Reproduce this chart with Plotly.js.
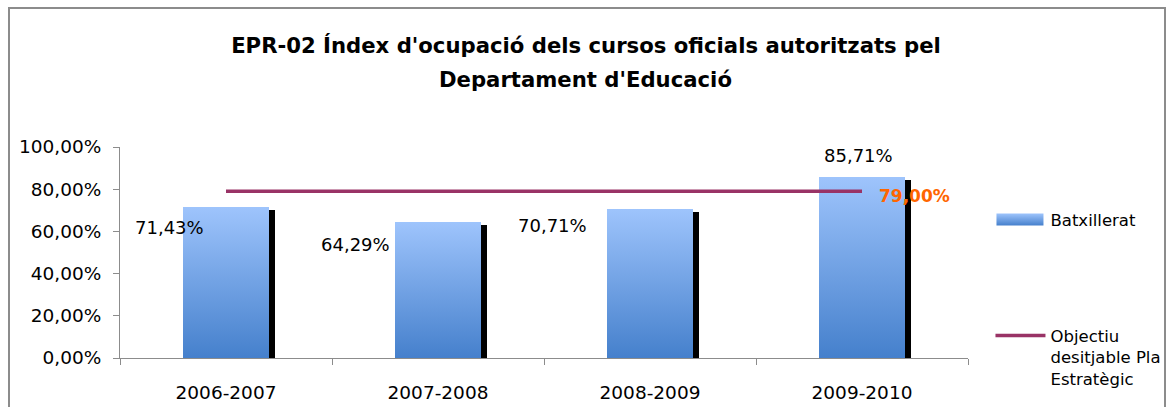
<!DOCTYPE html>
<html>
<head>
<meta charset="utf-8">
<script src="https://cdn.plot.ly/plotly-3.0.1.min.js"></script>
<style>
  html, body { margin: 0; padding: 0; background: #fff; }
  #wrap { position: relative; width: 1172px; height: 407px; overflow: hidden; }
  #chart { width: 1172px; height: 407px; }
  #frame { position: absolute; left: 8px; top: 7px; width: 1158px; height: 420px;
           border: 2px solid #8c8c8c; border-bottom: none; pointer-events: none; box-sizing: border-box; }
</style>
</head>
<body>
<div id="wrap">
  <div id="chart"></div>
  <div id="frame"></div>
</div>
<script>
// Course years
const cursos = ['2006-2007', '2007-2008', '2008-2009', '2009-2010'];
// Occupancy index, Batxillerat
const batxillerat = [0.7143, 0.6429, 0.7071, 0.8571];
// Strategic plan target
const objectiu = [0.79, 0.79, 0.79, 0.79];
// Label offsets (px) for the bar value labels
const labelShiftX = [-57, -83, -98, -4];
const labelShiftY = [-20, -22, -17, 22];

const fmtPct = v => (v * 100).toFixed(2).replace('.', ',') + '%';

const FONT = 'DejaVu Sans, Verdana, sans-serif';
const barHalf = 0.205;
const shadowDrop = 0.014;

const traces = [
  {
    type: 'bar', name: 'Batxillerat', x: cursos, y: batxillerat,
    offset: -barHalf, width: 2 * barHalf,
    marker: { color: '#6f9fe4', line: { width: 0 } },
    legend: 'legend', hoverinfo: 'skip'
  },
  {
    type: 'bar', name: 'ombra', x: cursos, y: batxillerat.map(v => v - shadowDrop),
    offset: barHalf, width: 0.024,
    marker: { color: '#000000', line: { width: 0 } },
    showlegend: false, hoverinfo: 'skip'
  },
  {
    type: 'scatter', mode: 'lines', name: 'Objectiu<br>desitjable Pla<br>Estratègic',
    x: cursos, y: objectiu,
    line: { color: '#993366', width: 3.5 },
    legend: 'legend2', hoverinfo: 'skip'
  }
];

const annotations = cursos.map((c, i) => ({
  x: c, y: batxillerat[i], xref: 'x', yref: 'y',
  text: fmtPct(batxillerat[i]), showarrow: false,
  xshift: labelShiftX[i], yshift: labelShiftY[i],
  font: { family: FONT, size: 18, color: '#000' }
}));
const last = cursos.length - 1;
annotations.push({
  x: cursos[last], y: objectiu[last], xref: 'x', yref: 'y',
  text: '<b>' + fmtPct(objectiu[last]) + '</b>', showarrow: false,
  xshift: 52, yshift: -5,
  font: { family: FONT, size: 17, color: '#ff6600' }
});
// second line of the chart heading, centred on the page
annotations.push({
  x: 0.5495, y: 1.32, xref: 'paper', yref: 'paper', xanchor: 'center', yanchor: 'middle',
  text: "<b>Departament d'Educació</b>", showarrow: false,
  font: { family: FONT, size: 21.2, color: '#000' }
});

const layout = {
  width: 1172, height: 407,
  margin: { l: 120, r: 204, t: 147, b: 49, autoexpand: false },
  paper_bgcolor: '#fff', plot_bgcolor: '#fff',
  separators: ',.',
  font: { family: FONT, size: 18, color: '#000' },
  title: {
    text: "<b>EPR-02 Índex d'ocupació dels cursos oficials autoritzats pel</b>",
    x: 0.5, xanchor: 'center', y: 0.889, yanchor: 'middle',
    font: { family: FONT, size: 21.2, color: '#000' }
  },
  showlegend: true,
  xaxis: {
    type: 'category', range: [-0.5, 3.5],
    showline: true, linecolor: '#8c8c8c', linewidth: 1,
    ticks: 'outside', tickson: 'boundaries', ticklen: 6, tickcolor: '#8c8c8c',
    ticklabelstandoff: 18,
    showgrid: false, zeroline: false,
    tickfont: { family: FONT, size: 18.5, color: '#000' }
  },
  yaxis: {
    range: [0, 1], tickvals: [0, 0.2, 0.4, 0.6, 0.8, 1.0], tickformat: '.2%',
    showline: true, linecolor: '#8c8c8c', linewidth: 1,
    ticks: 'outside', ticklen: 6, tickcolor: '#8c8c8c',
    ticklabelstandoff: 8,
    showgrid: false, zeroline: false,
    tickfont: { family: FONT, size: 18.5, color: '#000' }
  },
  legend: {
    x: 1.0265, y: 0.655, xanchor: 'left', yanchor: 'middle',
    font: { family: FONT, size: 16.5, color: '#000' }, itemwidth: 50,
    bgcolor: 'rgba(0,0,0,0)'
  },
  legend2: {
    x: 1.0265, y: 0.188, xanchor: 'left', yanchor: 'top', valign: 'top',
    font: { family: FONT, size: 16.5, color: '#000' }, itemwidth: 50,
    bgcolor: 'rgba(0,0,0,0)'
  },
  annotations: annotations,
  bargap: 0
};

function addGradient(gd) {
  const svg = gd.querySelector('svg.main-svg');
  if (svg.querySelector('#batxGrad')) return;
  const NS = 'http://www.w3.org/2000/svg';
  const defs = svg.querySelector('defs');
  const grad = document.createElementNS(NS, 'linearGradient');
  grad.setAttribute('id', 'batxGrad');
  grad.setAttribute('x1', '0'); grad.setAttribute('y1', '0');
  grad.setAttribute('x2', '0'); grad.setAttribute('y2', '1');
  [['0%', '#9ec4fc'], ['100%', '#4580cc']].forEach(([o, c]) => {
    const s = document.createElementNS(NS, 'stop');
    s.setAttribute('offset', o); s.setAttribute('stop-color', c);
    grad.appendChild(s);
  });
  defs.appendChild(grad);
}

function styleBars(gd) {
  addGradient(gd);
  // vertical blue gradient on the Batxillerat bars
  const barTraces = gd.querySelectorAll('.barlayer .trace');
  if (barTraces.length) barTraces[0].querySelectorAll('path').forEach(p => { p.style.fill = 'url(#batxGrad)'; });
  // wide gradient swatch in the legend (the square bar symbol path)
  gd.querySelectorAll('.legendpoints path').forEach(p => {
    const d = p.getAttribute('d') || '';
    if (/V/.test(d) && /Z$/i.test(d)) {
      p.setAttribute('d', 'M-24,-6H23V6H-24Z');
      p.style.fill = 'url(#batxGrad)';
      p.style.stroke = 'none';
    }
  });
}

Plotly.newPlot('chart', traces, layout, { staticPlot: true, displayModeBar: false }).then(gd => {
  styleBars(gd);
  setTimeout(() => styleBars(gd), 0);
});
</script>
</body>
</html>
